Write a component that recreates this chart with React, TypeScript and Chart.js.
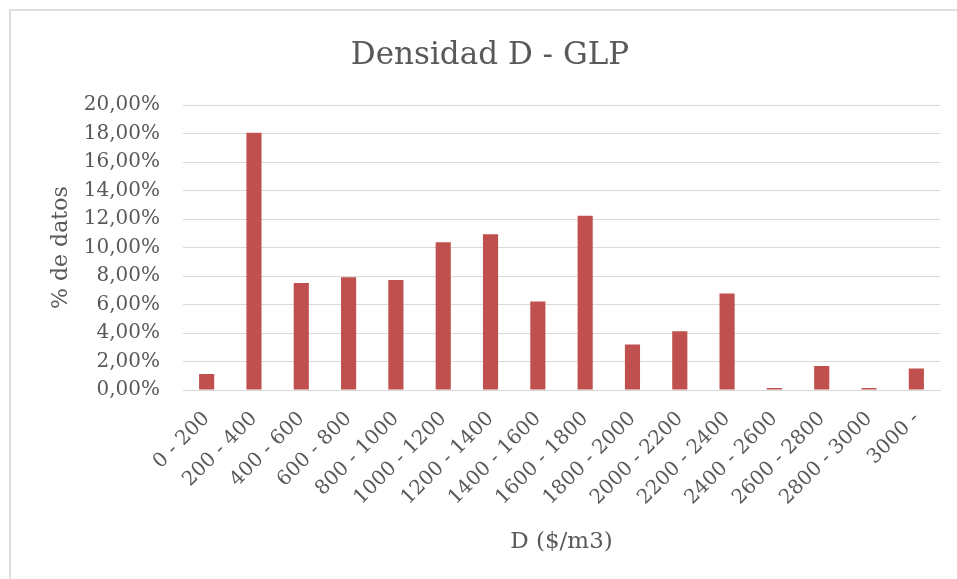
import React, { useEffect, useRef } from "react";
import { Chart, registerables } from "chart.js";

Chart.register(...registerables);

const categories = [
  "0 - 200", "200 - 400", "400 - 600", "600 - 800", "800 - 1000",
  "1000 - 1200", "1200 - 1400", "1400 - 1600", "1600 - 1800", "1800 - 2000",
  "2000 - 2200", "2200 - 2400", "2400 - 2600", "2600 - 2800", "2800 - 3000", "3000 -",
];
const percentData = [
  1.13, 18.07, 7.51, 7.91, 7.72, 10.38, 10.94, 6.21,
  12.24, 3.2, 4.12, 6.78, 0.14, 1.69, 0.14, 1.51,
];
const chartTitle = "Densidad D - GLP";
const xTitle = "D ($/m3)";
const yTitle = "% de datos";

const FONT = "'DejaVu Serif', serif";
const TEXT = "#595959";
const GRID = "#d9d9d9";

export default function App() {
  const ref = useRef<HTMLCanvasElement | null>(null);
  useEffect(() => {
    if (!ref.current) return;
    const chart = new Chart(ref.current, {
      type: "bar",
      data: {
        labels: categories,
        datasets: [
          {
            data: percentData,
            backgroundColor: "#C0504D",
            borderWidth: 0,
            barPercentage: 0.32,
            categoryPercentage: 1,
          },
        ],
      },
      options: {
        responsive: false,
        animation: false,
        layout: { padding: { left: 40, right: 17, top: 33, bottom: 0 } },
        plugins: {
          legend: { display: false },
          tooltip: { enabled: false },
          title: {
            display: true,
            text: chartTitle,
            color: TEXT,
            font: { family: FONT, size: 31, weight: "normal" },
            padding: { top: 4, bottom: 31 },
          },
        },
        scales: {
          x: {
            grid: { display: false, drawTicks: false },
            border: { display: true, color: GRID },
            ticks: {
              autoSkip: false,
              maxRotation: 45,
              minRotation: 45,
              padding: 17,
              color: TEXT,
              font: { family: FONT, size: 20 },
            },
            title: {
              display: true,
              text: xTitle,
              color: TEXT,
              font: { family: FONT, size: 23 },
              padding: { top: 0, bottom: 23 },
            },
            afterFit: (s: any) => {
              s.height = 189;
            },
          },
          y: {
            min: 0,
            max: 20,
            grid: { color: GRID, lineWidth: 1, drawTicks: false },
            border: { display: false },
            ticks: {
              stepSize: 2,
              padding: 23,
              color: TEXT,
              font: { family: FONT, size: 20 },
              callback: (v: any) => Number(v).toFixed(2).replace(".", ",") + "%",
            },
            title: {
              display: true,
              text: yTitle,
              color: TEXT,
              font: { family: FONT, size: 22 },
              padding: { top: 8, bottom: 0 },
            },
            afterFit: (s: any) => {
              s.width = 143;
            },
          },
        },
      },
    });
    return () => chart.destroy();
  }, []);

  return (
    <div
      style={{
        position: "fixed",
        left: 0,
        top: 0,
        width: 957,
        height: 579,
        background: "#ffffff",
        overflow: "hidden",
      }}
    >
      <div
        style={{
          position: "absolute",
          left: 9,
          top: 9,
          width: 1000,
          height: 1000,
          borderLeft: "2px solid #dedede",
          borderTop: "2px solid #dedede",
        }}
      />
      <canvas
        ref={ref}
        width={957}
        height={579}
        style={{ position: "absolute", left: 0, top: 0, display: "block" }}
      />
    </div>
  );
}
